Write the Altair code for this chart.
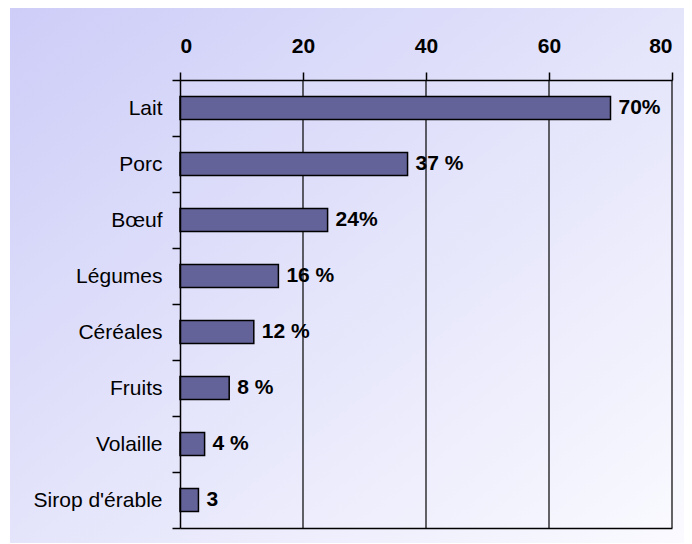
import altair as alt
import pandas as pd

categories = ["Lait", "Porc", "Bœuf", "Légumes", "Céréales", "Fruits", "Volaille", "Sirop d'érable"]
values = [70, 37, 24, 16, 12, 8, 4, 3]
value_labels = ["70%", "37 %", "24%", "16 %", "12 %", "8 %", "4 %", "3"]
tick_values = [0, 20, 40, 60, 80]
grid_values = [20, 40, 60, 80]

df = pd.DataFrame({"cat": categories, "val": values, "lab": value_labels})
grid_df = pd.DataFrame({"g": grid_values})
bg_df = pd.DataFrame({"k": [0]})

FONT = "Liberation Sans"

xscale = alt.Scale(domain=[0, 80], nice=False)
yscale = alt.Scale(paddingInner=0, paddingOuter=0)

bg = alt.Chart(bg_df).mark_rect(
    fill=alt.Gradient(
        gradient="linear",
        stops=[alt.GradientStop(color="#cdcdf8", offset=0),
               alt.GradientStop(color="#e4e4fb", offset=0.5),
               alt.GradientStop(color="#fafaff", offset=1)],
        x1=0, y1=0, x2=1, y2=1,
    ),
    strokeWidth=0,
).encode(
    x=alt.value(-170), x2=alt.value(504),
    y=alt.value(-72), y2=alt.value(463),
)

grid = alt.Chart(grid_df).mark_rule(color="#000000", strokeWidth=1.2).encode(
    x=alt.X("g:Q", scale=xscale,
            axis=alt.Axis(orient="bottom", labels=False, ticks=False, grid=False,
                          title=None, domain=True, domainColor="#000000",
                          domainWidth=1.6, zindex=1)),
)

bars = alt.Chart(df).mark_bar(
    fill="#63639a", stroke="#000000", strokeWidth=1.5,
    height=alt.RelativeBandSize(band=0.41),
).encode(
    x=alt.X("val:Q", scale=xscale,
            axis=alt.Axis(orient="top", values=tick_values, title=None, grid=False,
                          domainColor="#000000", domainWidth=1.5,
                          tickColor="#000000", tickSize=8, tickWidth=1.5,
                          labelFont=FONT, labelFontSize=21, labelFontWeight="bold",
                          labelColor="#000000", labelPadding=20,
                          labelBaseline="alphabetic", zindex=1)),
    y=alt.Y("cat:N", sort=None, scale=yscale,
            axis=alt.Axis(title=None, tickBand="extent", tickSize=8,
                          tickColor="#000000", tickWidth=1.5,
                          domainColor="#000000", domainWidth=1.5,
                          labelFont=FONT, labelFontSize=21, labelColor="#000000",
                          labelPadding=10, zindex=1)),
)

texts = alt.Chart(df).mark_text(
    align="left", baseline="middle", dx=8, font=FONT, fontSize=21,
    fontWeight="bold", color="#000000"
).encode(
    x=alt.X("val:Q", scale=xscale, axis=None),
    y=alt.Y("cat:N", sort=None, scale=yscale),
    text="lab:N",
)

chart = alt.layer(bg, grid, bars, texts).resolve_axis(x="independent").properties(
    width=492, height=448,
    autosize=alt.AutoSizeParams(type="none"),
    padding={"left": 172, "top": 72, "right": 12, "bottom": 16},
    background="#ffffff",
).configure_view(strokeWidth=0)

chart.save("out.html", embed_options={"renderer": "svg", "actions": False})
